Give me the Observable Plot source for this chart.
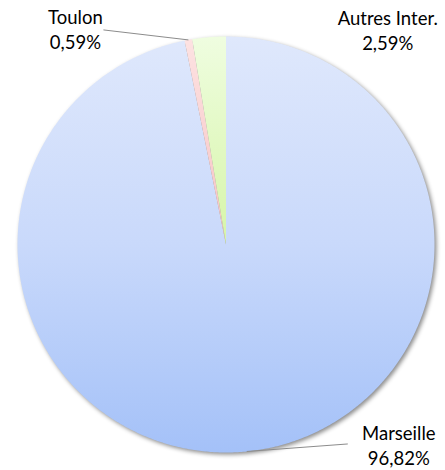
<!DOCTYPE html>
<html>
<head>
<meta charset="utf-8">
<script src="https://cdn.jsdelivr.net/npm/d3@7"></script>
<script src="https://cdn.jsdelivr.net/npm/@observablehq/plot@0.6"></script>
<style>
  html, body { margin: 0; padding: 0; background: #fff; }
  #chart svg { display: block; }
</style>
</head>
<body>
<div id="chart"></div>
<script>
// ---- data ----
const categories = ["Marseille", "Toulon", "Autres Inter."];
const shares = [96.82, 0.59, 2.59];
const shareLabels = ["96,82%", "0,59%", "2,59%"];

// ---- layout / style (not data) ----
const W = 445, H = 470;
const xRange = [17, 434];
const yRange = [452, 36];
const pxX = (xRange[1] - xRange[0]) / 2;
const pxY = (yRange[0] - yRange[1]) / 2;
const gradIds = ["gM", "gT", "gA"];
// label offsets (px) from slice's outer mid point; leader end offsets (px) or null
const labelOffsets = [[152, -7], [-113, -11.4], [178.7, -7.6]];
const leaderOffsets = [[101, -7.5], [-85, -10], null];

const rows = categories.map((c, i) => ({name: c, value: shares[i], label: `${c}\n${shareLabels[i]}`}));
const arcs = d3.pie().sort(null).value(d => d.value).startAngle(0).endAngle(2 * Math.PI)(rows);

// slice outlines in unit-circle data space
const pts = [];
arcs.forEach(a => {
  const name = a.data.name;
  pts.push({name, x: 0, y: 0});
  const n = Math.max(2, Math.ceil((a.endAngle - a.startAngle) / (Math.PI / 360)));
  for (let k = 0; k <= n; k++) {
    const t = a.startAngle + (a.endAngle - a.startAngle) * k / n;
    pts.push({name, x: Math.sin(t), y: Math.cos(t)});
  }
  pts.push({name, x: 0, y: 0});
});

const labelData = arcs.map((a, i) => {
  const m = (a.startAngle + a.endAngle) / 2;
  const ex = Math.sin(m), ey = Math.cos(m);
  return {
    label: a.data.label,
    ex, ey,
    tx: ex + labelOffsets[i][0] / pxX,
    ty: ey - labelOffsets[i][1] / pxY,
    lead: leaderOffsets[i]
  };
});
const leaders = labelData.filter(d => d.lead).map(d => ({
  x1: d.ex, y1: d.ey, x2: d.ex + d.lead[0] / pxX, y2: d.ey - d.lead[1] / pxY
}));

const plot = Plot.plot({
  width: W,
  height: H,
  margin: 0,
  x: {domain: [-1, 1], range: xRange, axis: null},
  y: {domain: [-1, 1], range: yRange, axis: null},
  color: {type: "ordinal", domain: categories, range: gradIds.map(id => `url(#${id})`)},
  style: {fontFamily: "Lato, 'Open Sans', sans-serif", background: "#fff"},
  marks: [
    Plot.line(pts, {x: "x", y: "y", z: "name", fill: "name", stroke: null, curve: "linear"}),
    Plot.link(leaders, {x1: "x1", y1: "y1", x2: "x2", y2: "y2", stroke: "#8c8c8c", strokeWidth: 1}),
    Plot.text(labelData, {x: "tx", y: "ty", text: "label", textAnchor: "middle", lineAnchor: "middle",
      lineHeight: 1.36, fontSize: 18.5, fill: "#000"})
  ]
});

// gradients
const ns = "http://www.w3.org/2000/svg";
const defs = document.createElementNS(ns, "defs");
const gradStops = {
  gM: [["0%", "#dfe8fc"], ["50%", "#c9d9fb"], ["100%", "#a4c1f8"]],
  gT: [["0%", "#fde2e2"], ["100%", "#f6c2c2"]],
  gA: [["0%", "#effde0"], ["100%", "#d6f5a8"]]
};
for (const id of gradIds) {
  const g = document.createElementNS(ns, "linearGradient");
  g.setAttribute("id", id);
  g.setAttribute("x1", "0"); g.setAttribute("y1", "0");
  g.setAttribute("x2", "0"); g.setAttribute("y2", "1");
  for (const [off, col] of gradStops[id]) {
    const s = document.createElementNS(ns, "stop");
    s.setAttribute("offset", off);
    s.setAttribute("stop-color", col);
    g.appendChild(s);
  }
  defs.appendChild(g);
}
plot.insertBefore(defs, plot.firstChild);
const pie = plot.querySelector("g[aria-label='line']");
if (pie) pie.style.filter = "drop-shadow(2px 2px 2px rgba(0,0,0,0.45))";

document.getElementById("chart").appendChild(plot);
</script>
</body>
</html>
